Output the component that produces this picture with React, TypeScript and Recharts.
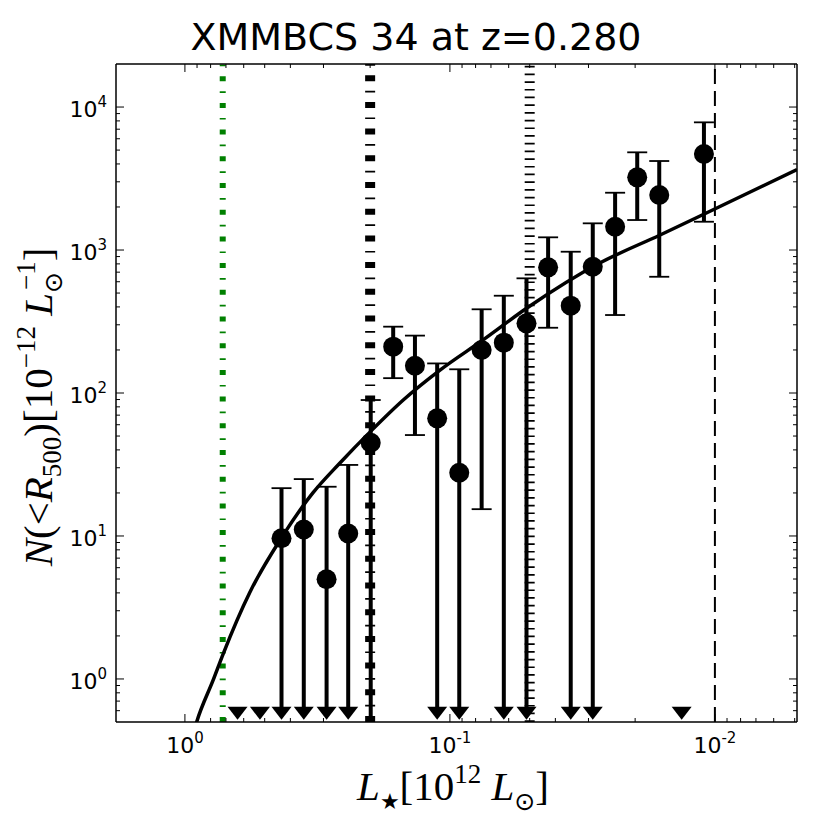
import React from 'react'
import {
  ComposedChart,
  XAxis,
  YAxis,
  Line,
  Scatter,
  ErrorBar,
  ReferenceLine,
} from 'recharts'

const TITLE = 'XMMBCS 34 at z=0.280'

const X_DOMAIN = [0.0049, 1.82]
const Y_DOMAIN = [0.5, 20000]
const Y_FLOOR = 0.5
const LIMIT_N = 0.58

const X_MAJOR = [1, 0.1, 0.01]
const X_TICK_EXP = ['0', '-1', '-2']
const X_MINOR = [
  0.9, 0.8, 0.7, 0.6, 0.5, 0.4, 0.3, 0.2,
  0.09, 0.08, 0.07, 0.06, 0.05, 0.04, 0.03, 0.02,
  0.009, 0.008, 0.007, 0.006, 0.005,
]
const Y_MAJOR = [1, 10, 100, 1000, 10000]
const Y_TICK_EXP = ['0', '1', '2', '3', '4']
const Y_MINOR = [
  0.6, 0.7, 0.8, 0.9,
  2, 3, 4, 5, 6, 7, 8, 9,
  20, 30, 40, 50, 60, 70, 80, 90,
  200, 300, 400, 500, 600, 700, 800, 900,
  2000, 3000, 4000, 5000, 6000, 7000, 8000, 9000,
]

// measured points
const PT_L = [0.432, 0.356, 0.292, 0.242, 0.199, 0.1637, 0.1355, 0.1117, 0.0922, 0.0759,
  0.0626, 0.0514, 0.0426, 0.035, 0.0289, 0.0238, 0.01964, 0.01622, 0.011]
const PT_N = [9.64, 11.1, 4.98, 10.4, 44.9, 211, 155, 66.5, 27.7, 200,
  225, 307, 757, 408, 764, 1455, 3224, 2424, 4692]
const PT_UP = [21.6, 25.0, 22.1, 31.4, 89.3, 291, 252, 161, 146.5, 385,
  479, 634, 1227, 973, 1537, 2516, 4823, 4193, 7816]
// null = lower bound goes down to an upper-limit arrow
const PT_LO: (number | null)[] = [null, null, null, null, 0.5, 127, 50.8, null, null, 15.4,
  null, null, 286, null, null, 351, 1621, 650, 1577]

// bins with upper limits only
const LIMIT_L = [0.633, 0.521, 0.01335]

// model curve
const CURVE_L = [0.933, 0.903, 0.782, 0.717, 0.568, 0.43, 0.329, 0.26, 0.197, 0.15,
  0.109, 0.075, 0.0512, 0.0272, 0.0161, 0.0102, 0.0049]
const CURVE_N = [0.406, 0.5, 0.984, 1.5, 4.06, 9.85, 20.0, 32.4, 55.0, 89.3,
  144.6, 235, 393, 811, 1274, 1905, 3650]

const V_GREEN = 0.72
const V_DASHDOT = 0.2
const V_DOTTED = 0.05
const V_DASHED = 0.01

const points = PT_L.map((x, i) => {
  const lo = PT_LO[i] === null ? LIMIT_N : (PT_LO[i] as number)
  return { x, y: PT_N[i], err: [PT_N[i] - lo, PT_UP[i] - PT_N[i]] }
})
const caps = [
  ...PT_L.map((x, i) => ({ x, y: PT_UP[i] })),
  ...PT_L.map((x, i) => ({ x, y: PT_LO[i] })).filter(
    (c) => c.y !== null && (c.y as number) > Y_FLOOR
  ),
]
const arrows = [
  ...PT_L.filter((_, i) => PT_LO[i] === null).map((x) => ({ x, y: LIMIT_N })),
  ...LIMIT_L.map((x) => ({ x, y: LIMIT_N })),
]
const curve = CURVE_L.map((x, i) => ({ x, y: CURVE_N[i] }))

const X_TICKS = [...X_MAJOR, ...X_MINOR]
const Y_TICKS = [...Y_MAJOR, ...Y_MINOR]

const TICK_FONT = 'DejaVu Sans'

function BottomTick(props: any) {
  const { x, y, payload } = props
  const i = X_MAJOR.indexOf(payload.value)
  return (
    <g>
      <line x1={x} x2={x} y1={y} y2={y - (i >= 0 ? 8 : 4)} stroke="#000" strokeWidth={1} />
      {i >= 0 && (
        <text x={x} y={y + 31} textAnchor="middle" fontFamily={TICK_FONT} fontSize={22} fill="#000">
          10<tspan dy={-10} fontSize={15}>{X_TICK_EXP[i]}</tspan>
        </text>
      )}
    </g>
  )
}

function TopTick(props: any) {
  const { x, y, payload } = props
  const major = X_MAJOR.includes(payload.value)
  return <line x1={x} x2={x} y1={y} y2={y + (major ? 8 : 4)} stroke="#000" strokeWidth={1} />
}

function LeftTick(props: any) {
  const { x, y, payload } = props
  const i = Y_MAJOR.indexOf(payload.value)
  return (
    <g>
      <line x1={x} x2={x + (i >= 0 ? 8 : 4)} y1={y} y2={y} stroke="#000" strokeWidth={1} />
      {i >= 0 && (
        <text x={x - 9} y={y + 10} textAnchor="end" fontFamily={TICK_FONT} fontSize={22} fill="#000">
          10<tspan dy={-10} fontSize={15}>{Y_TICK_EXP[i]}</tspan>
        </text>
      )}
    </g>
  )
}

function RightTick(props: any) {
  const { x, y, payload } = props
  const major = Y_MAJOR.includes(payload.value)
  return <line x1={x} x2={x - (major ? 8 : 4)} y1={y} y2={y} stroke="#000" strokeWidth={1} />
}

const DotShape = (p: any) => <circle cx={p.cx} cy={p.cy} r={10} fill="#000" />
const CapShape = (p: any) => (
  <line x1={p.cx - 10} x2={p.cx + 10} y1={p.cy} y2={p.cy} stroke="#000" strokeWidth={1.8} />
)
const ArrowShape = (p: any) => (
  <path d={`M${p.cx - 10},${p.cy - 6}L${p.cx + 10},${p.cy - 6}L${p.cx},${p.cy + 7}Z`} fill="#000" />
)

const frame = { stroke: '#000', strokeWidth: 1.5 }
const mathFont = 'Liberation Serif'

export default function App() {
  return (
    <div style={{ position: 'relative', width: 814, height: 814, background: '#fff' }}>
      <ComposedChart width={814} height={814} margin={{ top: 55, right: 24, bottom: 99, left: 107 }}>
        <XAxis
          xAxisId="b"
          type="number"
          dataKey="x"
          scale="log"
          domain={X_DOMAIN}
          reversed
          allowDataOverflow
          ticks={X_TICKS}
          interval={0}
          height={1}
          tickSize={0}
          tickMargin={0}
          tickLine={false}
          axisLine={frame}
          tick={BottomTick}
        />
        <XAxis
          xAxisId="t"
          orientation="top"
          type="number"
          dataKey="x"
          scale="log"
          domain={X_DOMAIN}
          reversed
          allowDataOverflow
          ticks={X_TICKS}
          interval={0}
          height={1}
          tickSize={0}
          tickMargin={0}
          tickLine={false}
          axisLine={frame}
          tick={TopTick}
        />
        <YAxis
          yAxisId="l"
          type="number"
          dataKey="y"
          scale="log"
          domain={Y_DOMAIN}
          allowDataOverflow
          ticks={Y_TICKS}
          interval={0}
          width={1}
          tickSize={0}
          tickMargin={0}
          tickLine={false}
          axisLine={frame}
          tick={LeftTick}
        />
        <YAxis
          yAxisId="r"
          orientation="right"
          type="number"
          dataKey="y"
          scale="log"
          domain={Y_DOMAIN}
          allowDataOverflow
          ticks={Y_TICKS}
          interval={0}
          width={1}
          tickSize={0}
          tickMargin={0}
          tickLine={false}
          axisLine={frame}
          tick={RightTick}
        />

        <ReferenceLine xAxisId="b" yAxisId="l" x={V_GREEN} stroke="#008000" strokeWidth={6} strokeDasharray="5 10 1.7 10" />
        <ReferenceLine xAxisId="b" yAxisId="l" x={V_DASHDOT} stroke="#000" strokeWidth={10} strokeDasharray="6 9.5 1.7 9.5" />
        <ReferenceLine xAxisId="b" yAxisId="l" x={V_DOTTED} stroke="#000" strokeWidth={10} strokeDasharray="1.7 6" />
        <ReferenceLine xAxisId="b" yAxisId="l" x={V_DASHED} stroke="#000" strokeWidth={2} strokeDasharray="15 7" />

        <Line
          xAxisId="b"
          yAxisId="l"
          data={curve}
          dataKey="y"
          type="monotone"
          stroke="#000"
          strokeWidth={3.5}
          dot={false}
          activeDot={false}
          isAnimationActive={false}
        />
        <Scatter xAxisId="b" yAxisId="l" data={caps} dataKey="y" shape={CapShape} isAnimationActive={false} />
        <Scatter xAxisId="b" yAxisId="l" data={points} dataKey="y" shape={DotShape} isAnimationActive={false}>
          <ErrorBar dataKey="err" direction="y" width={0} strokeWidth={4} stroke="#000" isAnimationActive={false} />
        </Scatter>
        <Scatter xAxisId="b" yAxisId="l" data={arrows} dataKey="y" shape={ArrowShape} isAnimationActive={false} />
      </ComposedChart>

      <svg width={814} height={814} style={{ position: 'absolute', left: 0, top: 0, pointerEvents: 'none' }}>
        <text x={408} y={42} textAnchor="middle" fontFamily="DejaVu Sans" fontSize={38} fill="#000">
          {TITLE}
        </text>
        <text x={445} y={792} textAnchor="middle" fontFamily={mathFont} fontSize={41} fill="#000">
          <tspan fontStyle="italic">L</tspan>
          <tspan dy={9} fontSize={22} fontFamily="DejaVu Sans">★</tspan>
          <tspan dy={-9}>[10</tspan>
          <tspan dy={-17} fontSize={27}>12</tspan>
          <tspan dy={17}> </tspan>
          <tspan fontStyle="italic">L</tspan>
          <tspan dy={10} fontSize={25} fontFamily="DejaVu Sans">⊙</tspan>
          <tspan dy={-10}>]</tspan>
        </text>
        <text
          x={44}
          y={399}
          textAnchor="middle"
          fontFamily={mathFont}
          fontSize={41}
          fill="#000"
          transform="rotate(-90 44 399)"
        >
          <tspan fontStyle="italic">N</tspan>
          <tspan>(&lt;</tspan>
          <tspan fontStyle="italic">R</tspan>
          <tspan dy={9} fontSize={27}>500</tspan>
          <tspan dy={-9}>)[10</tspan>
          <tspan dy={-17} fontSize={27}>−12</tspan>
          <tspan dy={17}> </tspan>
          <tspan fontStyle="italic">L</tspan>
          <tspan dy={10} fontSize={25} fontFamily="DejaVu Sans">⊙</tspan>
          <tspan dx={-18} dy={-27} fontSize={27}>−1</tspan>
          <tspan dy={17}>]</tspan>
        </text>
      </svg>
    </div>
  )
}
